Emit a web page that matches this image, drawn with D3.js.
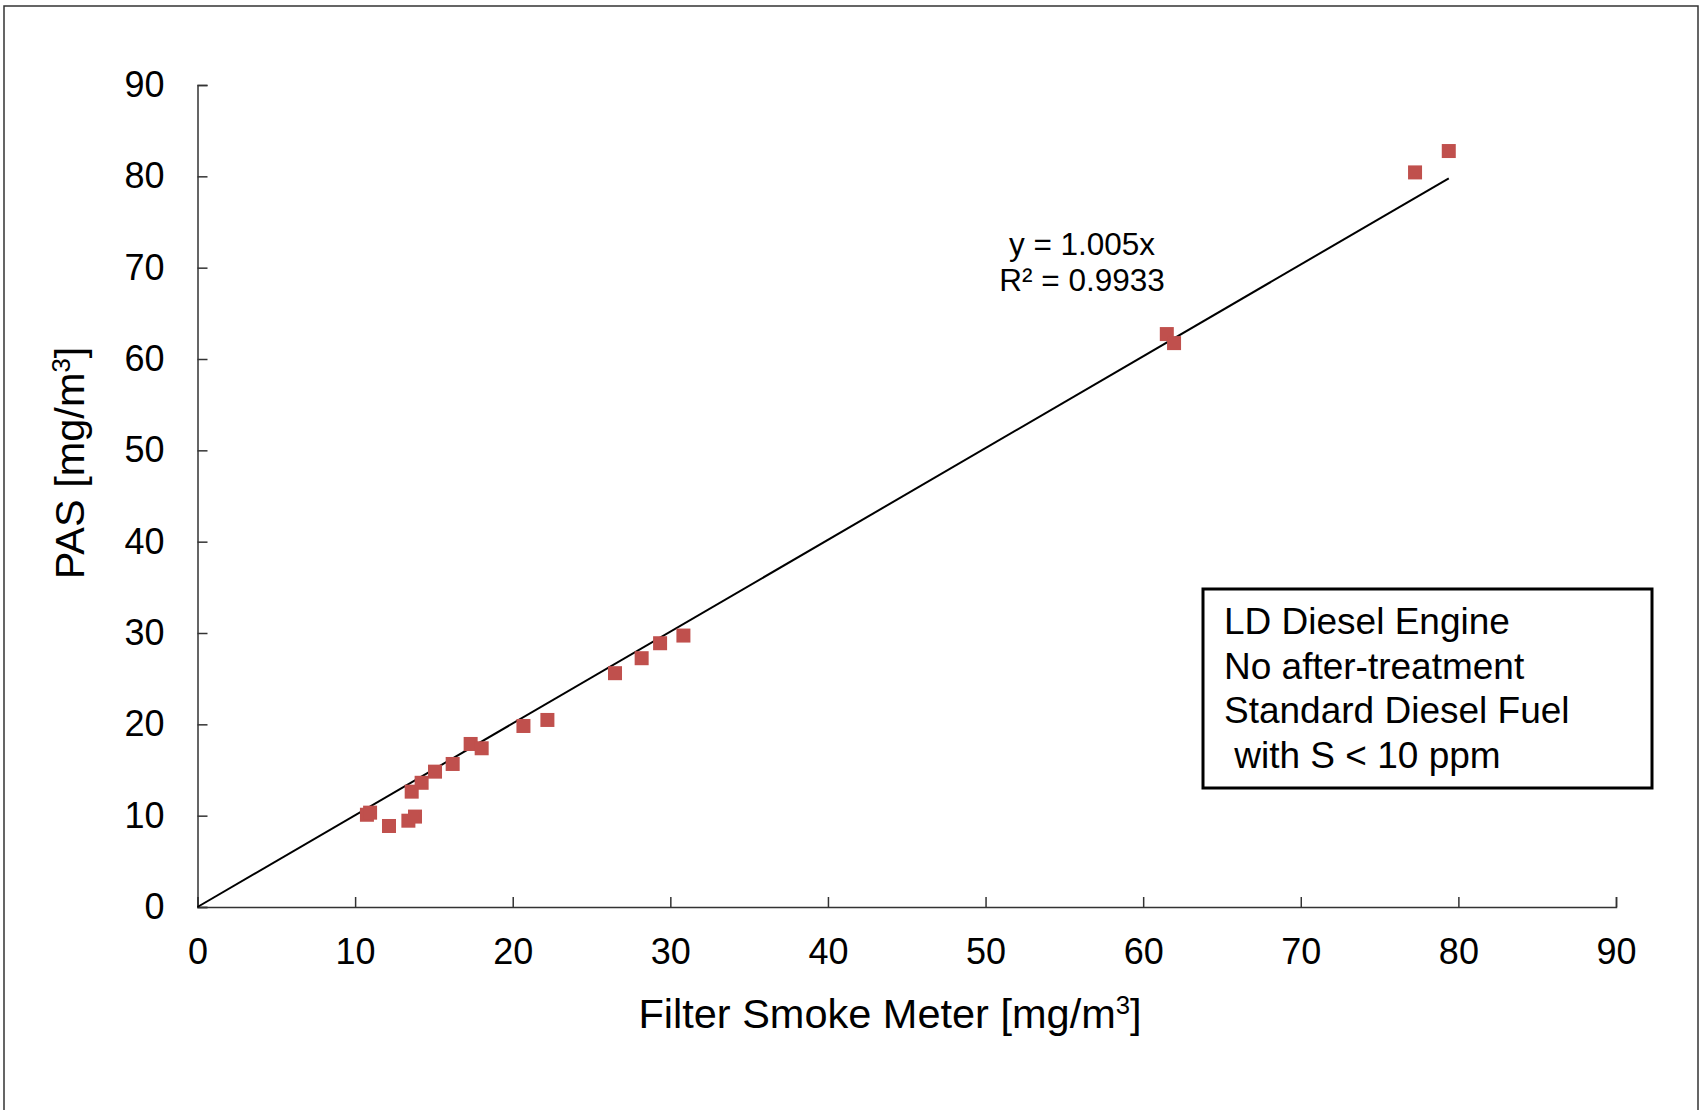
<!DOCTYPE html>
<html>
<head>
<meta charset="UTF-8">
<title>PAS vs Filter Smoke Meter</title>
<script src="https://cdn.jsdelivr.net/npm/d3@7"></script>
<style>
  body { margin: 0; background: #fff; }
  text { font-family: "Liberation Sans", Arial, sans-serif; fill: #000; }
  .axis path, .axis line { stroke: #333; stroke-width: 1.5px; }
  .axis text { font-size: 36px; fill: #000; }
  .title { font-size: 41.5px; }
  .eq { font-size: 31.5px; text-anchor: middle; }
  .note { font-size: 37px; white-space: pre; }
</style>
</head>
<body>
<div id="chart"></div>
<script>
// filter smoke meter readings (x) and PAS readings (y), mg/m3
var fsm = [10.75, 10.95, 12.15, 13.38, 13.8, 13.59, 14.22, 15.07, 16.19, 17.33, 18.03,
           20.68, 22.2, 26.49, 28.18, 29.35, 30.83, 61.5, 61.96, 77.25, 79.39];
var pas = [10.1, 10.33, 8.87, 9.45, 9.9, 12.63, 13.6, 14.82, 15.66, 17.85, 17.38,
           19.82, 20.48, 25.6, 27.24, 28.88, 29.72, 62.73, 61.74, 80.43, 82.77];
var ticks = [0, 10, 20, 30, 40, 50, 60, 70, 80, 90];
var slope = 1.005;
var eqLines = ["y = 1.005x", "R² = 0.9933"];
var noteLines = ["LD Diesel Engine", "No after-treatment", "Standard Diesel Fuel", " with S < 10 ppm"];

var W = 1700, H = 1110;
var svg = d3.select("#chart").append("svg").attr("width", W).attr("height", H);

// outer frame (no bottom edge visible)
svg.append("path")
   .attr("d", "M4,1110 V6 H1698 V1110")
   .attr("fill", "none").attr("stroke", "#333").attr("stroke-width", 1.5);

var x = d3.scaleLinear().domain([0, 90]).range([197.5, 1616]);
var y = d3.scaleLinear().domain([0, 90]).range([907, 85]);

svg.append("g").attr("class", "axis")
   .attr("transform", "translate(0," + y(0) + ")")
   .call(d3.axisBottom(x).tickValues(ticks).tickSize(-10).tickPadding(31));

svg.append("g").attr("class", "axis")
   .attr("transform", "translate(" + x(0) + ",0)")
   .call(d3.axisLeft(y).tickValues(ticks).tickSize(-10).tickPadding(33));

// axis titles
var xt = svg.append("text").attr("class", "title")
   .attr("x", 890).attr("y", 1028).attr("text-anchor", "middle");
xt.append("tspan").text("Filter Smoke Meter [mg/m");
xt.append("tspan").attr("baseline-shift", "super").attr("font-size", "62%").text("3");
xt.append("tspan").text("]");

var yt = svg.append("text").attr("class", "title")
   .attr("transform", "translate(84,463) rotate(-90)").attr("text-anchor", "middle");
yt.append("tspan").text("PAS [mg/m");
yt.append("tspan").attr("baseline-shift", "super").attr("font-size", "62%").text("3");
yt.append("tspan").text("]");

// trend line through origin
var xmax = d3.max(fsm);
svg.append("line")
   .attr("x1", x(0)).attr("y1", y(0))
   .attr("x2", x(xmax)).attr("y2", y(slope * xmax))
   .attr("stroke", "#000").attr("stroke-width", 2);

// data points
var s = 14;
svg.selectAll("rect.pt")
   .data(fsm)
   .enter()
   .append("rect")
     .attr("class", "pt")
     .attr("x", function (d) { return x(d) - s / 2; })
     .attr("y", function (d, i) { return y(pas[i]) - s / 2; })
     .attr("width", s).attr("height", s)
     .attr("fill", "#C0504D");

// equation label
svg.selectAll("text.eq")
   .data(eqLines)
   .enter()
   .append("text")
     .attr("class", "eq")
     .attr("x", 1082)
     .attr("y", function (d, i) { return 255 + i * 36; })
     .text(function (d) { return d; });

// note box
svg.append("rect")
   .attr("x", 1203).attr("y", 589).attr("width", 449).attr("height", 199)
   .attr("fill", "#fff").attr("stroke", "#000").attr("stroke-width", 3);

svg.selectAll("text.note")
   .data(noteLines)
   .enter()
   .append("text")
     .attr("class", "note")
     .attr("x", 1224)
     .attr("y", function (d, i) { return 634 + i * 44.7; })
     .text(function (d) { return d; });
</script>
</body>
</html>
